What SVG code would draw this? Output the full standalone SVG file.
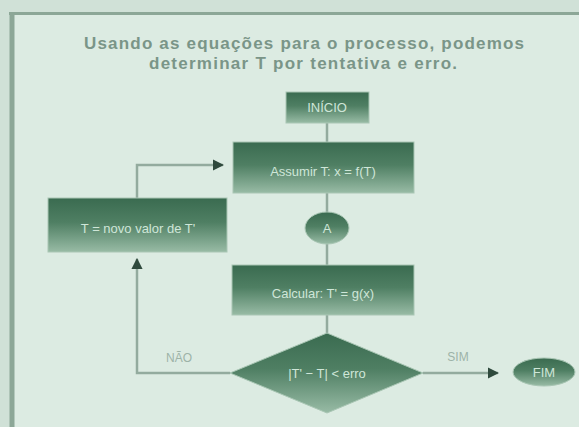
<svg xmlns="http://www.w3.org/2000/svg" width="579" height="427" viewBox="0 0 579 427">
  <defs>
    <linearGradient id="ng" x1="0" y1="0" x2="0" y2="1">
      <stop offset="0" stop-color="#3a6b50"/>
      <stop offset="0.45" stop-color="#4f7f63"/>
      <stop offset="1" stop-color="#98bba5"/>
    </linearGradient>
    <marker id="ah" viewBox="0 0 10 10" refX="9" refY="5" markerWidth="4.5" markerHeight="4.5" orient="auto" markerUnits="strokeWidth">
      <path d="M0,0 L10,5 L0,10 z" fill="#2f4a3d"/>
    </marker>
    <style>
      .node { fill: url(#ng); stroke: #a9c6b4; stroke-width: 1; }
      .ntxt { font-family: "Liberation Sans", Arial, sans-serif; font-size: 13px; fill: #cfe6d8; text-anchor: middle; }
      .title { font-family: "Liberation Sans", Arial, sans-serif; font-size: 17px; font-weight: bold; fill: #7a9588; text-anchor: middle; }
      .lbl { font-family: "Liberation Sans", Arial, sans-serif; font-size: 12px; fill: #9db3a8; text-anchor: middle; }
      .conn { fill: none; stroke: #93ab9e; stroke-width: 2.5; }
    </style>
  </defs>

  <rect x="0" y="0" width="579" height="427" fill="#d0e1d7"/>
  <rect x="12" y="13" width="567" height="414" fill="#dcebe2"/>
  <line x1="9" y1="13.5" x2="579" y2="13.5" stroke="#8ca797" stroke-width="3"/>
  <line x1="12" y1="12" x2="12" y2="427" stroke="#8ca797" stroke-width="5"/>

  <text class="title" x="304" y="49" textLength="440" lengthAdjust="spacing">Usando as equações para o processo, podemos</text>
  <text class="title" x="303" y="69" textLength="308" lengthAdjust="spacing">determinar T por tentativa e erro.</text>

  <g id="connectors">
    <line class="conn" x1="327" y1="123" x2="327" y2="142"/>
    <line class="conn" x1="327" y1="193" x2="327" y2="212"/>
    <line class="conn" x1="327" y1="244" x2="327" y2="265"/>
    <line class="conn" x1="327" y1="315" x2="327" y2="333"/>
    <polyline class="conn" points="230,373 137,373 137,259" marker-end="url(#ah)"/>
    <polyline class="conn" points="137,198 137,165 223,165" marker-end="url(#ah)"/>
    <line class="conn" x1="423" y1="373" x2="498" y2="373" marker-end="url(#ah)"/>
    <text class="lbl" x="179" y="362">NÃO</text>
    <text class="lbl" x="458" y="361">SIM</text>
  </g>

  <g id="inicio">
    <rect class="node" x="286" y="92" width="83" height="31"/>
    <text class="ntxt" x="327" y="112">INÍCIO</text>
  </g>
  <g id="passo1">
    <rect class="node" x="233" y="142" width="181" height="51"/>
    <text class="ntxt" x="323" y="176">Assumir T: x = f(T)</text>
  </g>
  <g id="conector">
    <ellipse class="node" cx="327" cy="228" rx="22" ry="16"/>
    <text class="ntxt" x="327" y="233">A</text>
  </g>
  <g id="passo2">
    <rect class="node" x="232" y="265" width="182" height="50"/>
    <text class="ntxt" x="323" y="298">Calcular: T' = g(x)</text>
  </g>
  <g id="decisao">
    <polygon class="node" points="327,333 423,373 327,413 230,373"/>
    <text class="ntxt" x="327" y="378">|T' − T| &lt; erro</text>
  </g>
  <g id="novoT">
    <rect class="node" x="48" y="198" width="179" height="54"/>
    <text class="ntxt" x="138" y="233">T = novo valor de T'</text>
  </g>
  <g id="fim">
    <ellipse class="node" cx="544" cy="372" rx="31" ry="14"/>
    <text class="ntxt" x="544" y="377">FIM</text>
  </g>
</svg>
